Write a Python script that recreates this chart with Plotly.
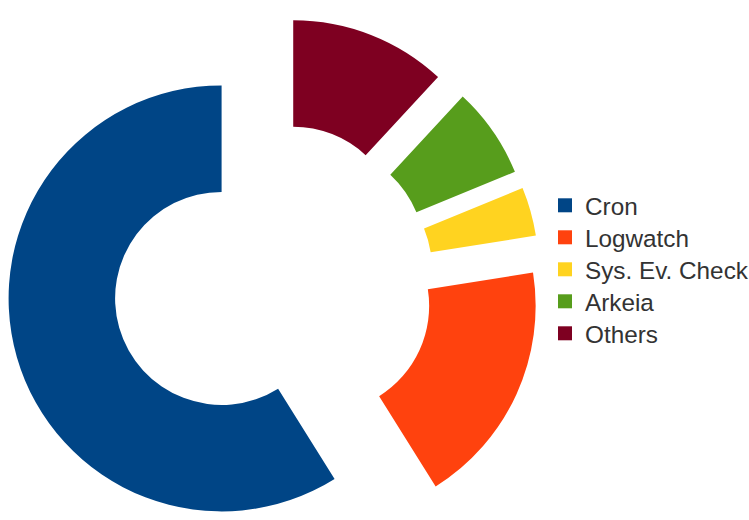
import math
import plotly.graph_objects as go

# ---- data ----
LABELS = ["Cron", "Logwatch", "Sys. Ev. Check", "Arkeia", "Others"]
VALUES = [58.9, 18.6, 3.7, 6.9, 11.9]
COLORS = ["#004586", "#ff420e", "#ffd320", "#579d1c", "#7e0021"]

# ---- layout constants (pixels) ----
W, H = 749, 520
CENTER_X, CENTER_Y = 273.5, 283.5   # un-exploded centre of the donut
RADIUS = 213.0
PULL_PX = 54.0                      # explode distance of every slice
HOLE = 0.5
LEG_X = 545.0
LEG_TOP = 205.5
LEG_STEP = 32.0

total = sum(VALUES)
rotation = 360.0 * (1 - VALUES[0] / total)

fig = go.Figure()

# one pie trace per exploded slice (other slices transparent)
cum = 0.0
for i, val in enumerate(VALUES):
    mid = (cum + val / 2.0) / total * 2 * math.pi   # counter-clockwise from 12 o'clock
    cum += val
    cx = CENTER_X - PULL_PX * math.sin(mid)
    cy = CENTER_Y - PULL_PX * math.cos(mid)
    cols = [c if j == i else "rgba(0,0,0,0)" for j, c in enumerate(COLORS)]
    fig.add_trace(go.Pie(
        values=VALUES, labels=LABELS, sort=False,
        direction="counterclockwise", rotation=rotation, hole=HOLE,
        marker=dict(colors=cols, line=dict(width=0)),
        textinfo="none", hoverinfo="skip", showlegend=False,
        domain=dict(x=[max(0, (cx - RADIUS) / W), min(1, (cx + RADIUS) / W)],
                    y=[max(0, 1 - (cy + RADIUS) / H), min(1, 1 - (cy - RADIUS) / H)]),
    ))

# legend entries
legends = {}
for i, (lab, col) in enumerate(zip(LABELS, COLORS)):
    key = "legend" if i == 0 else f"legend{i + 1}"
    fig.add_trace(go.Scatter(
        x=[None], y=[None], mode="markers", name=lab,
        marker=dict(symbol="square", size=14, color=col, line=dict(width=0)),
        legend=key, showlegend=True, hoverinfo="skip",
    ))
    legends[key] = dict(
        x=LEG_X / W, y=1 - (LEG_TOP + i * LEG_STEP) / H,
        xanchor="left", yanchor="middle",
        font=dict(family="Liberation Sans, Arial, sans-serif", size=24.3, color="#333333"),
        bgcolor="rgba(0,0,0,0)", borderwidth=0,
    )

fig.update_layout(
    width=W, height=H,
    margin=dict(l=0, r=0, t=0, b=0, autoexpand=False),
    paper_bgcolor="white", plot_bgcolor="white",
    xaxis=dict(visible=False), yaxis=dict(visible=False),
    **legends,
)

fig.write_html("out.html")
